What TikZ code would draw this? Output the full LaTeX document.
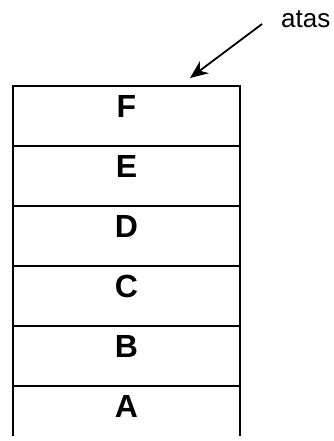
\documentclass[tikz,border=0pt]{standalone}
\usepackage{fontspec}
\setmainfont{Liberation Sans}
\usetikzlibrary{arrows.meta}
\begin{document}
\begin{tikzpicture}[x=1pt,y=-1pt,
  cell/.style={minimum width=227pt,minimum height=60pt,inner sep=0pt,outer sep=0pt},
  letter/.style={font=\fontsize{32}{32}\selectfont\bfseries,inner sep=0pt},
  wall/.style={line width=2.2pt},
  pointer/.style={line width=1.8pt,-{Stealth[length=18pt,width=15pt]}}]
\useasboundingbox (0,0) rectangle (333,441);
% stack cells, top to bottom
\node[cell] (cF) at (126.5,116) {};
\node[cell] (cE) at (126.5,176) {};
\node[cell] (cD) at (126.5,236) {};
\node[cell] (cC) at (126.5,296) {};
\node[cell] (cB) at (126.5,356) {};
\node[cell] (cA) at (126.5,416) {};
% letters sit in the upper part of each cell
\foreach \c/\t in {cF/F,cE/E,cD/D,cC/C,cB/B,cA/A}
  \node[letter] (l\t) at ([yshift=-20.5pt]\c.north) {\t};
% outer walls and top
\draw[wall] ([yshift=10pt]cA.south west) -- (cF.north west) -- (cF.north east) -- ([yshift=10pt]cA.south east);
% separators
\foreach \c in {cE,cD,cC,cB,cA}
  \draw[wall] (\c.north west) -- (\c.north east);
% top label and pointer
\node[font=\fontsize{26}{26}\selectfont,anchor=base west,inner sep=0pt] (atas) at (281,27.5) {atas};
\coordinate (src) at (262,24);
\coordinate (tip) at (190,78);
\draw[pointer] (src) -- (tip);
\end{tikzpicture}
\end{document}
